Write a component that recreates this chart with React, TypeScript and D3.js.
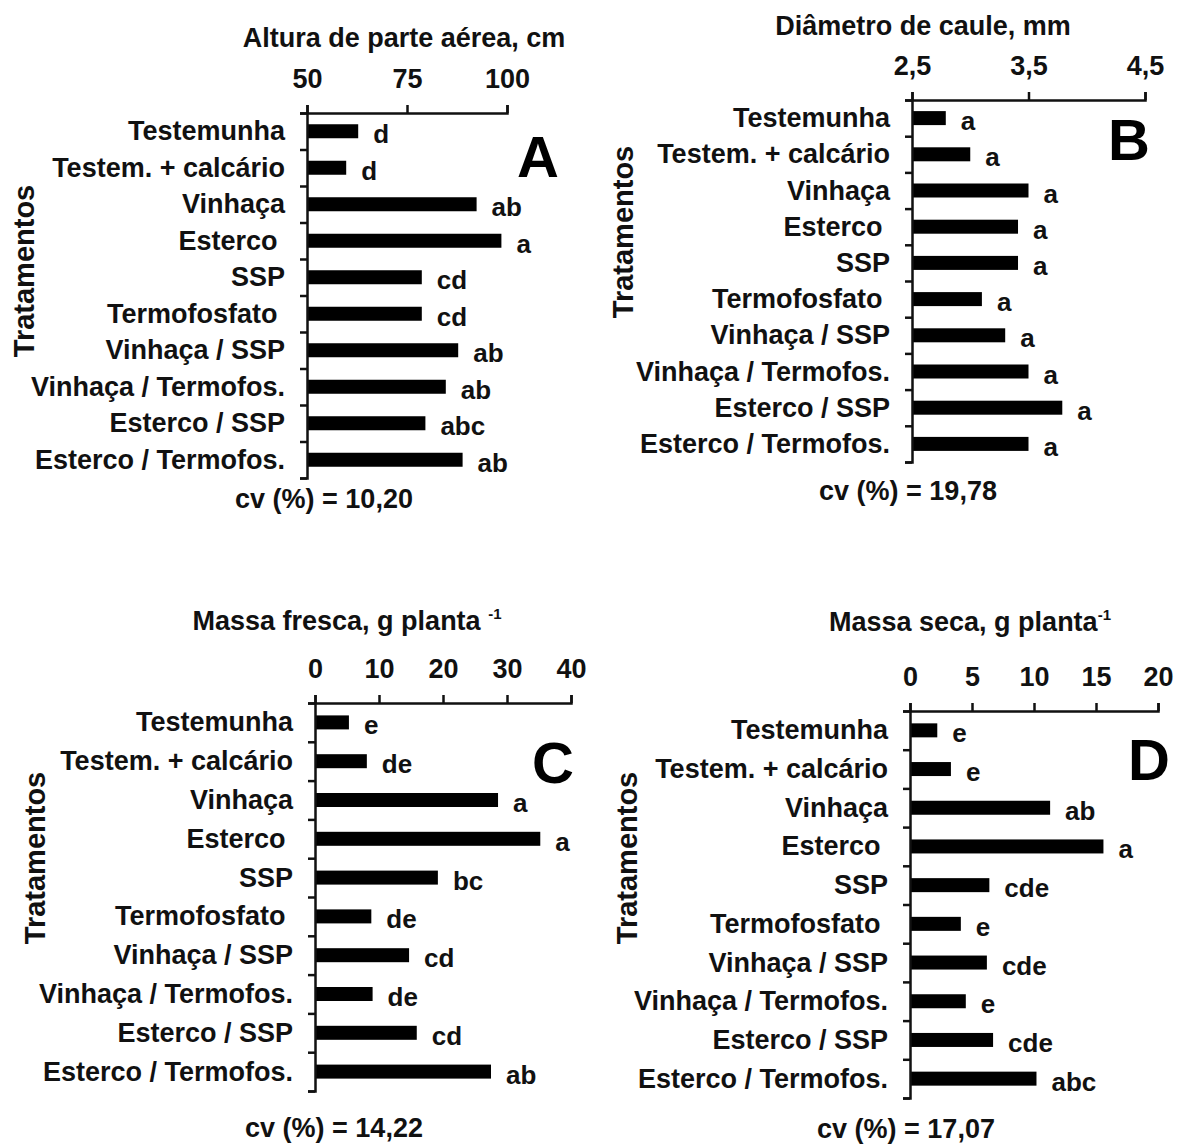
import React, { useEffect, useRef } from "react";
import * as d3 from "d3";

const tratamentos = [
  "Testemunha",
  "Testem. + calcário",
  "Vinhaça",
  "Esterco ",
  "SSP",
  "Termofosfato ",
  "Vinhaça / SSP",
  "Vinhaça / Termofos.",
  "Esterco / SSP",
  "Esterco / Termofos.",
];

const alturaValues = [62.8, 59.8, 92.4, 98.6, 78.7, 78.7, 87.8, 84.7, 79.6, 88.9];
const alturaLetters = ["d", "d", "ab", "a", "cd", "cd", "ab", "ab", "abc", "ab"];
const alturaTicks = [50, 75, 100];

const diametroValues = [2.79, 3.0, 3.5, 3.41, 3.41, 3.1, 3.3, 3.5, 3.79, 3.5];
const diametroLetters = ["a", "a", "a", "a", "a", "a", "a", "a", "a", "a"];
const diametroTicks = [2.5, 3.5, 4.5];

const frescaValues = [5.3, 8.1, 28.6, 35.2, 19.2, 8.8, 14.7, 9.0, 15.9, 27.5];
const frescaLetters = ["e", "de", "a", "a", "bc", "de", "cd", "de", "cd", "ab"];
const frescaTicks = [0, 10, 20, 30, 40];

const secaValues = [2.2, 3.3, 11.3, 15.6, 6.4, 4.1, 6.2, 4.5, 6.7, 10.2];
const secaLetters = ["e", "e", "ab", "a", "cde", "e", "cde", "e", "cde", "abc"];
const secaTicks = [0, 5, 10, 15, 20];

const FONT = "'Liberation Sans', Arial, Helvetica, sans-serif";
const INK = "#111";

const ptBR = d3.formatLocale({ decimal: ",", thousands: ".", grouping: [3], currency: ["", ""] });

const panels = [
  {
    key: "A", values: alturaValues, letters: alturaLetters, ticks: alturaTicks,
    domain: [50, 100], x0: 307, x1: 507, top: 113, band: 36.5, fmt: ptBR.format("d"),
    title: "Altura de parte aérea, cm", sup: "", titleX: 404, titleY: 47,
    cv: "cv (%) = 10,20", cvX: 324, cvY: 508, letterX: 517, letterY: 177,
    yTitleX: 24, yTitleY: 271,
  },
  {
    key: "B", values: diametroValues, letters: diametroLetters, ticks: diametroTicks,
    domain: [2.5, 4.5], x0: 912, x1: 1145, top: 100, band: 36.2, fmt: ptBR.format(".1f"),
    title: "Diâmetro de caule, mm", sup: "", titleX: 923, titleY: 35,
    cv: "cv (%) = 19,78", cvX: 908, cvY: 500, letterX: 1108, letterY: 160,
    yTitleX: 623, yTitleY: 232,
  },
  {
    key: "C", values: frescaValues, letters: frescaLetters, ticks: frescaTicks,
    domain: [0, 40], x0: 315, x1: 571, top: 703, band: 38.8, fmt: ptBR.format("d"),
    title: "Massa fresca, g planta ", sup: "-1", titleX: 347, titleY: 630,
    cv: "cv (%) = 14,22", cvX: 334, cvY: 1137, letterX: 532, letterY: 783,
    yTitleX: 35, yTitleY: 858,
  },
  {
    key: "D", values: secaValues, letters: secaLetters, ticks: secaTicks,
    domain: [0, 20], x0: 910, x1: 1158, top: 711, band: 38.7, fmt: ptBR.format("d"),
    title: "Massa seca, g planta", sup: "-1", titleX: 970, titleY: 631,
    cv: "cv (%) = 17,07", cvX: 906, cvY: 1138, letterX: 1128, letterY: 780,
    yTitleX: 627, yTitleY: 858,
  },
];

const BAR_H = 14;

function Panel({ p }) {
  const xAxisRef = useRef(null);
  const yAxisRef = useRef(null);

  const x = d3.scaleLinear().domain(p.domain).range([p.x0, p.x1]);
  const y = d3
    .scaleBand()
    .domain(tratamentos)
    .range([p.top, p.top + p.band * tratamentos.length]);
  const yEdges = d3
    .scaleLinear()
    .domain([0, tratamentos.length])
    .range([p.top, p.top + p.band * tratamentos.length]);

  useEffect(() => {
    const gx = d3.select(xAxisRef.current);
    gx.selectAll("*").remove();
    gx.call(
      d3.axisTop(x).tickValues(p.ticks).tickFormat(p.fmt).tickSize(8).tickSizeOuter(8).tickPadding(17)
    );
    gx.attr("font-family", FONT).attr("font-size", 27).attr("font-weight", "bold");
    gx.selectAll("path,line").attr("stroke", INK).attr("stroke-width", 2.5);
    gx.selectAll("text").attr("fill", INK);

    const gy = d3.select(yAxisRef.current);
    gy.selectAll("*").remove();
    gy.call(
      d3.axisLeft(yEdges).tickValues(d3.range(tratamentos.length + 1)).tickFormat(() => "").tickSize(7).tickSizeOuter(7)
    );
    gy.selectAll("path,line").attr("stroke", INK).attr("stroke-width", 2.5);
  }, []);

  return (
    <g fontFamily={FONT} fontWeight="bold" fill={INK}>
      <text x={p.titleX} y={p.titleY} textAnchor="middle" fontSize={27} style={{ whiteSpace: "pre" }}>
        {p.title}
        {p.sup ? (
          <tspan fontSize={15} dy={-11}>{p.sup}</tspan>
        ) : null}
      </text>
      <text
        transform={`translate(${p.yTitleX},${p.yTitleY}) rotate(-90)`}
        textAnchor="middle"
        dominantBaseline="central"
        fontSize={29}
      >
        Tratamentos
      </text>
      {tratamentos.map((c, i) => {
        const cy = y(c) + y.bandwidth() / 2;
        return (
          <g key={c}>
            <text x={p.x0 - 22} y={cy + 9} textAnchor="end" fontSize={27} style={{ whiteSpace: "pre" }}>
              {c}
            </text>
            <rect x={x(p.domain[0])} y={cy - BAR_H / 2} width={x(p.values[i]) - x(p.domain[0])} height={BAR_H} fill="#000" />
            <text x={x(p.values[i]) + 15} y={cy + 12} fontSize={26}>
              {p.letters[i]}
            </text>
          </g>
        );
      })}
      <g ref={xAxisRef} transform={`translate(0,${p.top})`} />
      <g ref={yAxisRef} transform={`translate(${p.x0},0)`} />
      <text x={p.letterX} y={p.letterY} fontSize={58} fill="#000">
        {p.key}
      </text>
      <text x={p.cvX} y={p.cvY} textAnchor="middle" fontSize={27}>
        {p.cv}
      </text>
    </g>
  );
}

export default function App() {
  return (
    <svg
      width={1178}
      height={1145}
      style={{ position: "absolute", left: 0, top: 0, background: "#fff" }}
    >
      {panels.map((p) => (
        <Panel key={p.key} p={p} />
      ))}
    </svg>
  );
}
